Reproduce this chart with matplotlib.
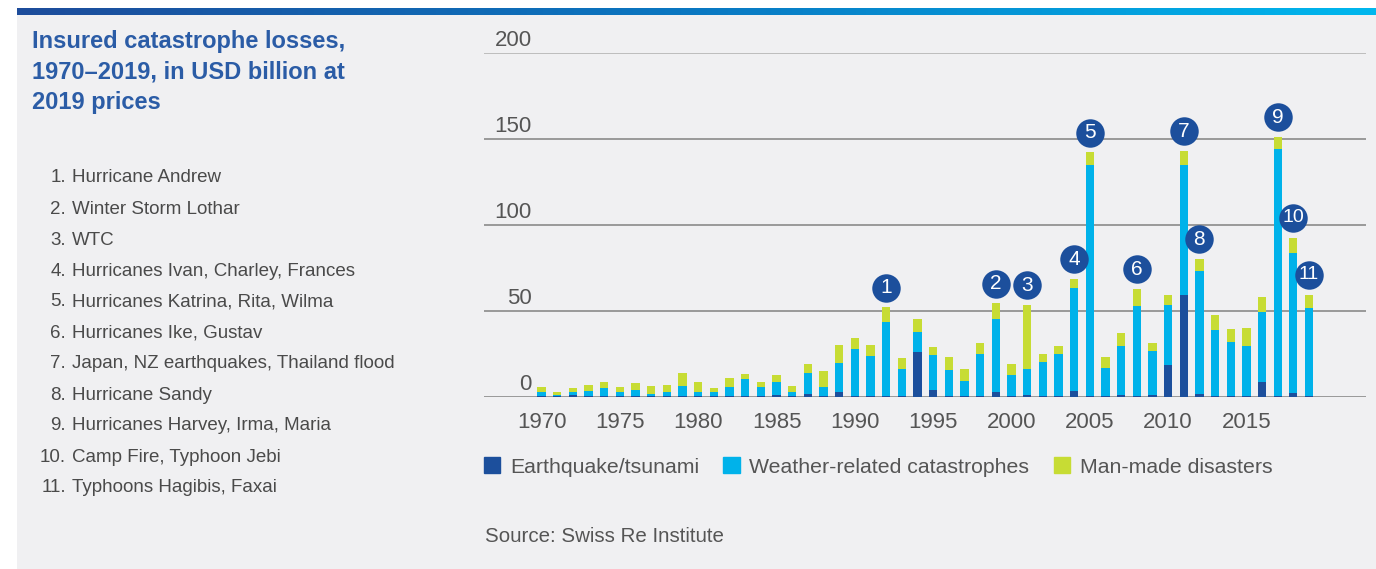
import numpy as np
import matplotlib
matplotlib.use('Agg')
import matplotlib.pyplot as plt
from matplotlib.patches import Rectangle, Patch

plt.rcParams['font.family'] = ['Liberation Sans', 'DejaVu Sans']

# data (USD bn, 2019 prices)
years = list(range(1970, 2020))
earthquake = [0.2, 0.3, 0.8, 0.2, 0.2, 0.3, 0.3, 0.5, 0.3, 0.3,
              0.5, 0.3, 0.3, 0.4, 0.3, 1.0, 0.3, 1.6, 0.5, 2.7,
              0.5, 0.5, 0.3, 0.3, 26.0, 3.7, 0.3, 0.3, 0.3, 2.9,
              0.3, 1.0, 0.3, 0.3, 3.3, 0.3, 0.3, 1.0, 0.5, 0.8,
              18.4, 59.1, 1.4, 0.5, 0.3, 0.3, 8.7, 0.3, 2.1, 0.3]
weather = [2.7, 0.7, 1.7, 3.3, 4.8, 2.2, 3.6, 0.9, 2.6, 5.9,
           2.0, 2.2, 5.5, 9.7, 5.1, 7.7, 2.4, 12.4, 4.9, 16.9,
           27.0, 23.1, 43.1, 16.0, 11.6, 20.5, 15.0, 8.8, 24.5, 42.4,
           12.3, 15.3, 20.0, 24.5, 60.1, 134.4, 16.2, 28.7, 52.2, 25.9,
           35.1, 75.6, 71.9, 38.3, 31.3, 29.4, 40.3, 143.9, 81.4, 51.0]
manmade = [2.9, 1.7, 2.7, 3.3, 3.3, 3.3, 3.9, 4.6, 3.7, 7.6,
           5.8, 2.3, 4.9, 3.1, 3.3, 3.7, 3.7, 5.0, 9.3, 10.4,
           6.8, 6.6, 8.5, 6.2, 7.7, 4.5, 7.6, 7.2, 6.6, 9.0,
           6.4, 37.0, 4.5, 4.5, 5.0, 7.3, 6.5, 7.1, 9.9, 4.7,
           5.4, 8.1, 6.7, 8.7, 7.5, 10.2, 8.7, 6.8, 8.9, 8.0]

badge_years = [1992, 1999, 2001, 2004, 2005, 2008, 2011, 2012, 2017, 2018, 2019]
events = ["Hurricane Andrew", "Winter Storm Lothar", "WTC",
          "Hurricanes Ivan, Charley, Frances", "Hurricanes Katrina, Rita, Wilma",
          "Hurricanes Ike, Gustav", "Japan, NZ earthquakes, Thailand flood",
          "Hurricane Sandy", "Hurricanes Harvey, Irma, Maria",
          "Camp Fire, Typhoon Jebi", "Typhoons Hagibis, Faxai"]

c_eq = '#1c4f9c'
c_wr = '#00b2ea'
c_mm = '#c7dc34'
c_title = '#2b5ca6'
c_text = '#4a4a4a'

W, H = 1376, 569
fig = plt.figure(figsize=(W / 100, H / 100), dpi=100)
fig.patch.set_facecolor('white')

def fx(px):
    return px / W

def fy(py):
    return 1 - py / H

# grey panel + gradient strip on top
fig.patches.append(Rectangle((fx(17), 0), 1 - fx(17), fy(15), transform=fig.transFigure,
                             facecolor='#f0f0f2', edgecolor='none', zorder=-5))
gax = fig.add_axes([fx(17), fy(15.5), 1 - fx(17), 7.5 / H])
grad = np.linspace(0, 1, 256).reshape(1, -1)
cmap = matplotlib.colors.LinearSegmentedColormap.from_list('strip', ['#1d4c9b', '#0a78c2', '#00b7ee'])
gax.imshow(grad, aspect='auto', cmap=cmap)
gax.axis('off')

# title and event list
fig.text(fx(32), fy(30), "Insured catastrophe losses,\n1970\u20132019, in USD billion at\n2019 prices",
         ha='left', va='top', fontsize=17, fontweight='bold', color=c_title, linespacing=1.42)
for i, ev in enumerate(events):
    y = fy(178 + 31 * i)
    fig.text(fx(66), y, f"{i + 1}.", ha='right', va='center', fontsize=13.5, color=c_text)
    fig.text(fx(72), y, ev, ha='left', va='center', fontsize=13.5, color=c_text)

# chart
ax = fig.add_axes([fx(484), fy(396.7), fx(1366) - fx(484), (396.7 - 52.7) / H])
ax.set_facecolor('none')
x = np.array(years)
eq = np.array(earthquake)
wr = np.array(weather)
mm = np.array(manmade)
bw = 0.53
ax.bar(x, eq, bw, color=c_eq, zorder=3)
ax.bar(x, wr, bw, bottom=eq, color=c_wr, zorder=3)
ax.bar(x, mm, bw, bottom=eq + wr, color=c_mm, zorder=3)

total = eq + wr + mm
for i, yr in enumerate(badge_years):
    top = total[years.index(yr)] + 11.5
    ax.scatter([yr], [top], s=420, color=c_eq, zorder=5, linewidths=0)
    ax.text(yr, top, str(i + 1), ha='center', va='center', color='white',
            fontsize=15 if i < 9 else 14, zorder=6)

ax.set_xlim(1966.32, 2022.64)
ax.set_ylim(0, 200)
for v in [0, 50, 100, 150, 200]:
    ax.axhline(v, color='#bdbdbd' if v == 200 else '#8a8a8a', lw=1.4 if v == 200 else 1.2, zorder=1)
    ax.annotate(str(v), xy=(0.0544, v), xycoords=ax.get_yaxis_transform(),
                xytext=(0, 1.5), textcoords='offset points', ha='right', va='bottom',
                fontsize=16, color='#555555')
ax.set_yticks([])
ax.set_xticks(range(1970, 2020, 5))
ax.tick_params(axis='x', length=0, pad=11, labelsize=16, labelcolor='#555555')
for s in ax.spines.values():
    s.set_visible(False)

handles = [Patch(color=c_eq, label='Earthquake/tsunami'),
           Patch(color=c_wr, label='Weather-related catastrophes'),
           Patch(color=c_mm, label='Man-made disasters')]
leg = fig.legend(handles=handles, loc='center left', bbox_to_anchor=(fx(484), fy(467)),
                 ncol=3, frameon=False, fontsize=15.3, handlelength=0.77, handleheight=0.77,
                 handletextpad=0.45, columnspacing=1.15, borderpad=0, borderaxespad=0)
for t in leg.get_texts():
    t.set_color('#555555')

fig.text(fx(485), fy(536), "Source: Swiss Re Institute", ha='left', va='center',
         fontsize=14.8, color='#555555')

fig.savefig('out.png', dpi=100, facecolor=fig.get_facecolor())
